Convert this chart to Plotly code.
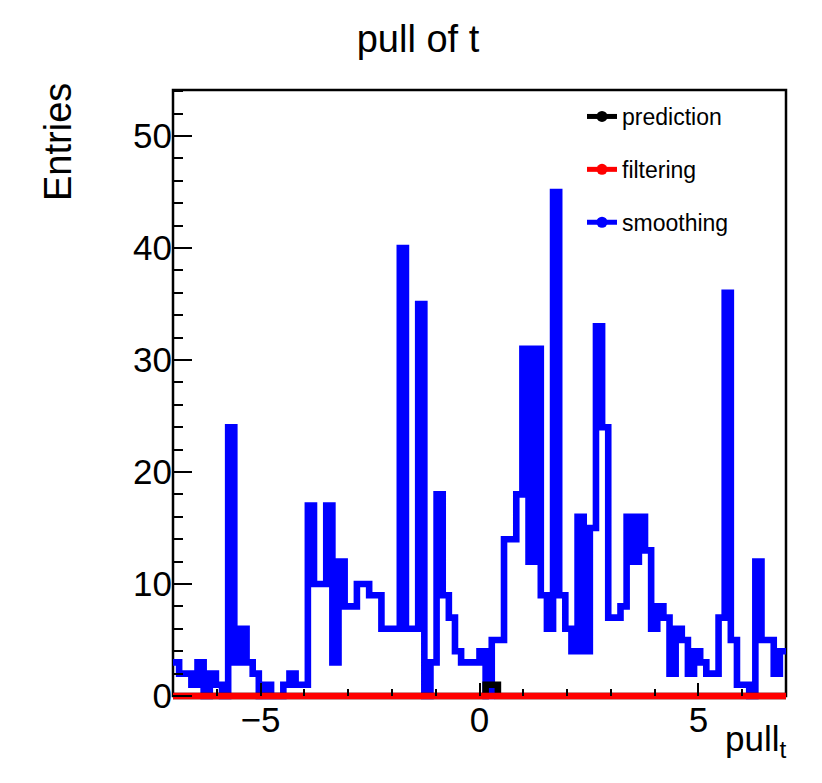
import numpy as np
import plotly.graph_objects as go

# ---------------- data ----------------
n_bins = 100
x_low, x_high = -7.0, 7.0

smoothing = [3, 2, 2, 1, 3, 0, 2, 1, 0, 24,
             3, 6, 3, 2, 0, 1, 0, 0, 1, 2,
             1, 1, 17, 10, 10, 17, 3, 12, 8, 8,
             10, 10, 9, 9, 6, 6, 6, 40, 6, 6,
             35, 0, 3, 18, 9, 7, 4, 3, 3, 3,
             4, 0, 5, 5, 14, 14, 18, 31, 12, 31,
             9, 6, 45, 9, 6, 4, 16, 4, 15, 33,
             24, 7, 7, 8, 16, 12, 16, 13, 6, 8,
             7, 2, 6, 5, 2, 4, 3, 2, 2, 7,
             36, 5, 1, 1, 0, 12, 5, 5, 2, 4]

prediction = [0, 0, 0, 0, 0, 0, 0, 0, 0, 0,
              0, 0, 0, 0, 0, 0, 0, 0, 0, 0,
              0, 0, 0, 0, 0, 0, 0, 0, 0, 0,
              0, 0, 0, 0, 0, 0, 0, 0, 0, 0,
              0, 0, 0, 0, 0, 0, 0, 0, 0, 0,
              0, 1, 1, 0, 0, 0, 0, 0, 0, 0,
              0, 0, 0, 0, 0, 0, 0, 0, 0, 0,
              0, 0, 0, 0, 0, 0, 0, 0, 0, 0,
              0, 0, 0, 0, 0, 0, 0, 0, 0, 0,
              0, 0, 0, 0, 0, 0, 0, 0, 0, 0]

filtering = [0, 0, 0, 0, 0, 0, 0, 0, 0, 0,
             0, 0, 0, 0, 0, 0, 0, 0, 0, 0,
             0, 0, 0, 0, 0, 0, 0, 0, 0, 0,
             0, 0, 0, 0, 0, 0, 0, 0, 0, 0,
             0, 0, 0, 0, 0, 0, 0, 0, 0, 0,
             0, 0, 0, 0, 0, 0, 0, 0, 0, 0,
             0, 0, 0, 0, 0, 0, 0, 0, 0, 0,
             0, 0, 0, 0, 0, 0, 0, 0, 0, 0,
             0, 0, 0, 0, 0, 0, 0, 0, 0, 0,
             0, 0, 0, 0, 0, 0, 0, 0, 0, 0]

series_names = ["prediction", "filtering", "smoothing"]
series_colors = ["#000000", "#ff0000", "#0000ff"]

# ---------------- layout geometry ----------------
W, H = 822, 783
L, R, T, B = 173, 36, 90, 83          # plot area: x 173..786, y 90..700
px_per_unit = 11.2
y_zero_px = 696
y_top = (y_zero_px - T) / px_per_unit
y_bot = -(H - B - y_zero_px) / px_per_unit
plot_h = H - T - B
plot_w = W - L - R
zero_paper = (H - B - y_zero_px) / plot_h

FONT = "Liberation Sans, Arial, Helvetica, sans-serif"

edges = np.linspace(x_low, x_high, n_bins + 1)


def step_xy(counts):
    xs = list(edges)
    ys = list(counts) + [counts[-1]]
    return xs, ys


fig = go.Figure()

hist_data = {"prediction": prediction, "filtering": filtering, "smoothing": smoothing}
draw_order = ["smoothing", "prediction", "filtering"]
for name in draw_order:
    i = series_names.index(name)
    xs, ys = step_xy(hist_data[name])
    fig.add_trace(go.Scatter(
        x=xs, y=ys, mode="lines",
        line=dict(shape="hv", color=series_colors[i], width=6.6),
        showlegend=False, hoverinfo="skip",
    ))

# legend entries (line + marker, like ROOT "lp")
for i, name in enumerate(series_names):
    fig.add_trace(go.Scatter(
        x=[None], y=[None], mode="lines+markers", name=name,
        legendgroup="g%d" % i,
        line=dict(color=series_colors[i], width=5),
        marker=dict(color=series_colors[i], size=11, symbol="circle"),
    ))


def ppx(px):
    return (px - L) / plot_w


def ppy(py):
    return (H - B - py) / plot_h


fig.update_layout(
    width=W, height=H,
    margin=dict(l=L, r=R, t=T, b=B, pad=0),
    paper_bgcolor="white", plot_bgcolor="white",
    font=dict(family=FONT, color="black"),
    title=dict(text="pull of t", x=418 / W, xanchor="center", xref="container",
               y=1 - 39 / H, yanchor="middle", yref="container",
               font=dict(size=38, family=FONT, color="black")),
    xaxis=dict(range=[x_low, x_high], anchor="free", position=zero_paper,
               showgrid=False, zeroline=False, showline=False,
               ticks="inside", ticklen=13, tickwidth=2, tickcolor="black",
               dtick=5, tick0=0,
               minor=dict(ticks="inside", ticklen=7, tickwidth=2, tickcolor="black", dtick=1),
               tickfont=dict(size=35, family=FONT, color="black")),
    yaxis=dict(range=[y_bot, y_top], showgrid=False, zeroline=False, showline=False,
               ticks="inside", ticklen=19, tickwidth=2, tickcolor="black",
               dtick=10, tick0=0,
               minor=dict(ticks="inside", ticklen=10, tickwidth=2, tickcolor="black", dtick=2),
               tickfont=dict(size=35, family=FONT, color="black")),
    legend=dict(x=ppx(582), y=ppy(95), xanchor="left", yanchor="top",
                bgcolor="rgba(0,0,0,0)", borderwidth=0,
                font=dict(size=23, family=FONT, color="black"),
                tracegroupgap=20, itemwidth=30, traceorder="grouped"),
    shapes=[dict(type="rect", xref="paper", yref="paper",
                 x0=0, x1=1, y0=zero_paper, y1=1,
                 line=dict(color="black", width=2.5), layer="below")],
    annotations=[
        dict(text="Entries", xref="paper", yref="paper", x=ppx(58), y=ppy(142),
             xanchor="center", yanchor="middle", textangle=-90, showarrow=False,
             font=dict(size=38, family=FONT, color="black")),
        dict(text="pull<sub>t</sub>", xref="paper", yref="paper", x=ppx(788), y=ppy(741),
             xanchor="right", yanchor="middle", showarrow=False,
             font=dict(size=35, family=FONT, color="black")),
    ],
)

fig.write_html("out.html")
